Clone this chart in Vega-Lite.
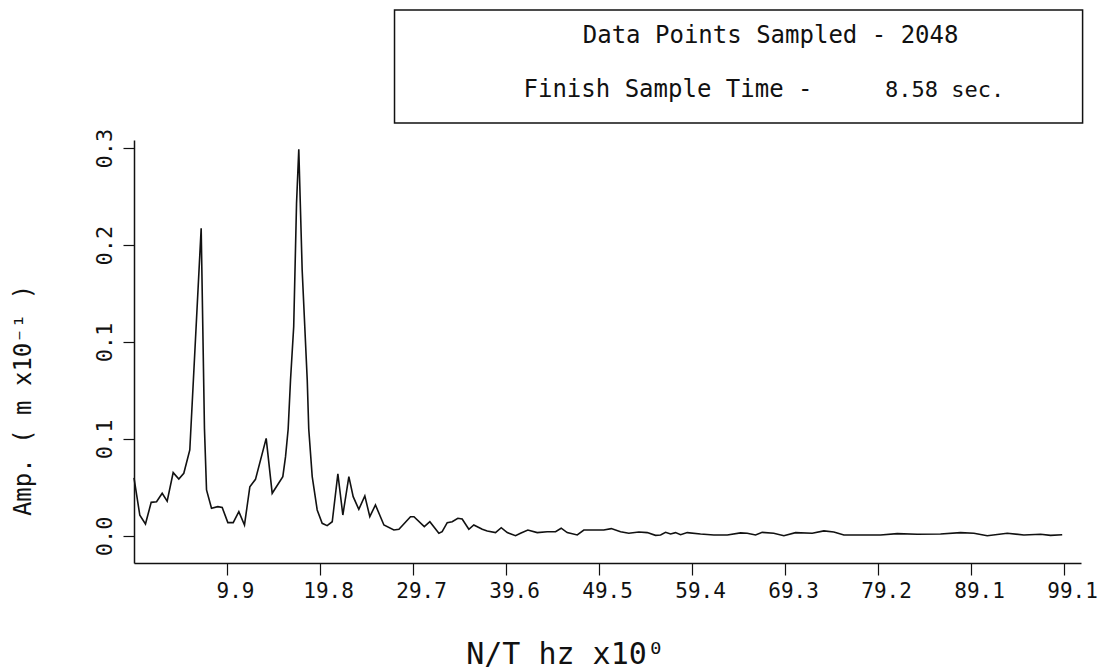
{
  "$schema": "https://vega.github.io/schema/vega-lite/v6.json",
  "width": 947,
  "height": 423,
  "autosize": {"type": "none"},
  "padding": {"left": 134, "top": 140, "right": 25, "bottom": 108},
  "background": "white",
  "config": {"view": {"stroke": null}, "font": "DejaVu Sans Mono"},
  "layer": [
    {
      "data": {"values": [
        {"freq": 0.0, "amp": 0.045}, {"freq": 0.62, "amp": 0.016}, {"freq": 1.22, "amp": 0.0093},
        {"freq": 1.83, "amp": 0.026}, {"freq": 2.4, "amp": 0.0265}, {"freq": 3.0, "amp": 0.033},
        {"freq": 3.53, "amp": 0.027}, {"freq": 4.17, "amp": 0.049}, {"freq": 4.77, "amp": 0.044},
        {"freq": 5.3, "amp": 0.0485}, {"freq": 5.94, "amp": 0.0665}, {"freq": 7.15, "amp": 0.238},
        {"freq": 7.5, "amp": 0.083}, {"freq": 7.72, "amp": 0.0356}, {"freq": 8.25, "amp": 0.0214},
        {"freq": 8.92, "amp": 0.0227}, {"freq": 9.39, "amp": 0.022}, {"freq": 9.99, "amp": 0.0103},
        {"freq": 10.56, "amp": 0.0103}, {"freq": 11.16, "amp": 0.0188}, {"freq": 11.76, "amp": 0.0085},
        {"freq": 12.33, "amp": 0.038}, {"freq": 12.93, "amp": 0.0438}, {"freq": 14.07, "amp": 0.0755},
        {"freq": 14.71, "amp": 0.033}, {"freq": 15.84, "amp": 0.0459}, {"freq": 16.13, "amp": 0.0613},
        {"freq": 16.41, "amp": 0.0827}, {"freq": 16.66, "amp": 0.1206}, {"freq": 17.0, "amp": 0.162},
        {"freq": 17.3, "amp": 0.257}, {"freq": 17.54, "amp": 0.299}, {"freq": 17.9, "amp": 0.2057},
        {"freq": 18.44, "amp": 0.1206}, {"freq": 18.6, "amp": 0.0827}, {"freq": 18.97, "amp": 0.0459},
        {"freq": 19.5, "amp": 0.0201}, {"freq": 20.03, "amp": 0.0098}, {"freq": 20.56, "amp": 0.008},
        {"freq": 21.1, "amp": 0.011}, {"freq": 21.7, "amp": 0.048}, {"freq": 22.23, "amp": 0.0162},
        {"freq": 22.87, "amp": 0.0459}, {"freq": 23.33, "amp": 0.0304}, {"freq": 23.93, "amp": 0.0206},
        {"freq": 24.57, "amp": 0.031}, {"freq": 25.1, "amp": 0.0149}, {"freq": 25.7, "amp": 0.024},
        {"freq": 26.6, "amp": 0.0085}, {"freq": 27.66, "amp": 0.0046}, {"freq": 28.2, "amp": 0.0052},
        {"freq": 29.43, "amp": 0.0149}, {"freq": 29.8, "amp": 0.0149}, {"freq": 30.9, "amp": 0.0072},
        {"freq": 31.49, "amp": 0.011}, {"freq": 32.45, "amp": 0.0021}, {"freq": 32.8, "amp": 0.0033},
        {"freq": 33.34, "amp": 0.0103}, {"freq": 33.87, "amp": 0.011}, {"freq": 34.47, "amp": 0.0137},
        {"freq": 34.93, "amp": 0.0131}, {"freq": 35.64, "amp": 0.0052}, {"freq": 36.17, "amp": 0.0085},
        {"freq": 37.07, "amp": 0.0052}, {"freq": 37.6, "amp": 0.0039}, {"freq": 38.48, "amp": 0.0026},
        {"freq": 39.09, "amp": 0.0064}, {"freq": 39.73, "amp": 0.0026}, {"freq": 40.61, "amp": 0.0002},
        {"freq": 41.14, "amp": 0.0021}, {"freq": 41.92, "amp": 0.0046}, {"freq": 42.92, "amp": 0.0026},
        {"freq": 43.98, "amp": 0.0033}, {"freq": 44.87, "amp": 0.0033}, {"freq": 45.47, "amp": 0.006},
        {"freq": 46.11, "amp": 0.0026}, {"freq": 47.18, "amp": 0.0008}, {"freq": 47.88, "amp": 0.0046},
        {"freq": 48.95, "amp": 0.0046}, {"freq": 50.0, "amp": 0.0046}, {"freq": 50.8, "amp": 0.0057},
        {"freq": 51.79, "amp": 0.0033}, {"freq": 52.67, "amp": 0.0021}, {"freq": 53.74, "amp": 0.0031},
        {"freq": 54.63, "amp": 0.0026}, {"freq": 55.51, "amp": 0.0005}, {"freq": 56.05, "amp": 0.0008},
        {"freq": 56.58, "amp": 0.0028}, {"freq": 57.11, "amp": 0.0015}, {"freq": 57.64, "amp": 0.0026},
        {"freq": 58.18, "amp": 0.001}, {"freq": 58.89, "amp": 0.0026}, {"freq": 60.3, "amp": 0.0015},
        {"freq": 61.72, "amp": 0.0008}, {"freq": 63.15, "amp": 0.0008}, {"freq": 64.56, "amp": 0.0024},
        {"freq": 65.27, "amp": 0.0021}, {"freq": 66.16, "amp": 0.0008}, {"freq": 66.87, "amp": 0.0028},
        {"freq": 68.1, "amp": 0.0021}, {"freq": 69.17, "amp": 0.0002}, {"freq": 70.42, "amp": 0.0026},
        {"freq": 72.19, "amp": 0.0021}, {"freq": 73.43, "amp": 0.0039}, {"freq": 74.49, "amp": 0.0031},
        {"freq": 75.56, "amp": 0.0008}, {"freq": 77.34, "amp": 0.0008}, {"freq": 79.46, "amp": 0.0008},
        {"freq": 81.24, "amp": 0.0018}, {"freq": 83.37, "amp": 0.0013}, {"freq": 85.85, "amp": 0.0015},
        {"freq": 87.98, "amp": 0.0026}, {"freq": 89.4, "amp": 0.0021}, {"freq": 90.82, "amp": 0.0002},
        {"freq": 92.95, "amp": 0.0021}, {"freq": 94.72, "amp": 0.0008}, {"freq": 96.5, "amp": 0.0013},
        {"freq": 97.56, "amp": 0.0005}, {"freq": 98.8, "amp": 0.001}
      ]},
      "mark": {"type": "line", "color": "#111", "strokeWidth": 1.6},
      "encoding": {
        "x": {
          "field": "freq", "type": "quantitative",
          "scale": {"domain": [0, 100.8], "nice": false, "zero": false},
          "axis": {
            "title": "N/T hz  x10⁰",
            "values": [9.9, 19.8, 29.7, 39.6, 49.5, 59.4, 69.3, 79.2, 89.1, 99.0],
            "labelExpr": "datum.value > 98 ? '99.1' : format(datum.value, '.1f')",
            "grid": false, "tickSize": 12, "labelPadding": 5, "labelOffset": 8,
            "labelFontSize": 21, "labelFont": "DejaVu Sans Mono", "labelColor": "#111",
            "labelFlush": false, "labelOverlap": false,
            "titleFontSize": 30, "titleFont": "DejaVu Sans Mono", "titleFontWeight": "normal", "titleColor": "#111",
            "titleX": 431, "titleY": 100, "titleAlign": "center", "titleBaseline": "alphabetic",
            "domainColor": "#111", "domainWidth": 1.5, "tickColor": "#111", "tickWidth": 1.2
          }
        },
        "y": {
          "field": "amp", "type": "quantitative",
          "scale": {"domain": [-0.0209, 0.3062], "nice": false, "zero": false},
          "axis": {
            "title": "Amp. ( m x10⁻¹ )",
            "values": [0, 0.075, 0.15, 0.225, 0.3],
            "format": ".1f",
            "grid": false, "tickSize": 11, "labelPadding": 7,
            "labelAngle": -90, "labelAlign": "center", "labelBaseline": "bottom",
            "labelFontSize": 22, "labelFont": "DejaVu Sans Mono", "labelColor": "#111",
            "labelFlush": false, "labelOverlap": false,
            "titleFontSize": 24, "titleFont": "DejaVu Sans Mono", "titleFontWeight": "normal", "titleColor": "#111",
            "titleAngle": -90, "titleX": -111, "titleY": 260, "titleAlign": "center", "titleBaseline": "middle",
            "domainColor": "#111", "domainWidth": 1.5, "tickColor": "#111", "tickWidth": 1.2
          }
        }
      }
    },
    {
      "data": {"values": [{"note": "box"}]},
      "mark": {"type": "rect", "filled": false, "stroke": "#111", "strokeWidth": 1.5, "clip": false},
      "encoding": {
        "x": {"datum": 27.73, "type": "quantitative"},
        "x2": {"datum": 100.97},
        "y": {"datum": 0.4067, "type": "quantitative"},
        "y2": {"datum": 0.3193}
      }
    },
    {
      "data": {"values": [{"note": "Data Points Sampled - 2048"}]},
      "mark": {"type": "text", "font": "DejaVu Sans Mono", "fontSize": 24, "align": "center", "baseline": "alphabetic", "color": "#111", "clip": false},
      "encoding": {
        "text": {"field": "note"},
        "x": {"datum": 67.76, "type": "quantitative"},
        "y": {"datum": 0.3812, "type": "quantitative"}
      }
    },
    {
      "data": {"values": [{"note": "Finish Sample Time -"}]},
      "mark": {"type": "text", "font": "DejaVu Sans Mono", "fontSize": 24, "align": "left", "baseline": "alphabetic", "color": "#111", "clip": false},
      "encoding": {
        "text": {"field": "note"},
        "x": {"datum": 41.46, "type": "quantitative"},
        "y": {"datum": 0.3394, "type": "quantitative"}
      }
    },
    {
      "data": {"values": [{"note": "8.58 sec."}]},
      "mark": {"type": "text", "font": "DejaVu Sans Mono", "fontSize": 22, "align": "center", "baseline": "alphabetic", "color": "#111", "clip": false},
      "encoding": {
        "text": {"field": "note"},
        "x": {"datum": 86.28, "type": "quantitative"},
        "y": {"datum": 0.3394, "type": "quantitative"}
      }
    }
  ]
}
